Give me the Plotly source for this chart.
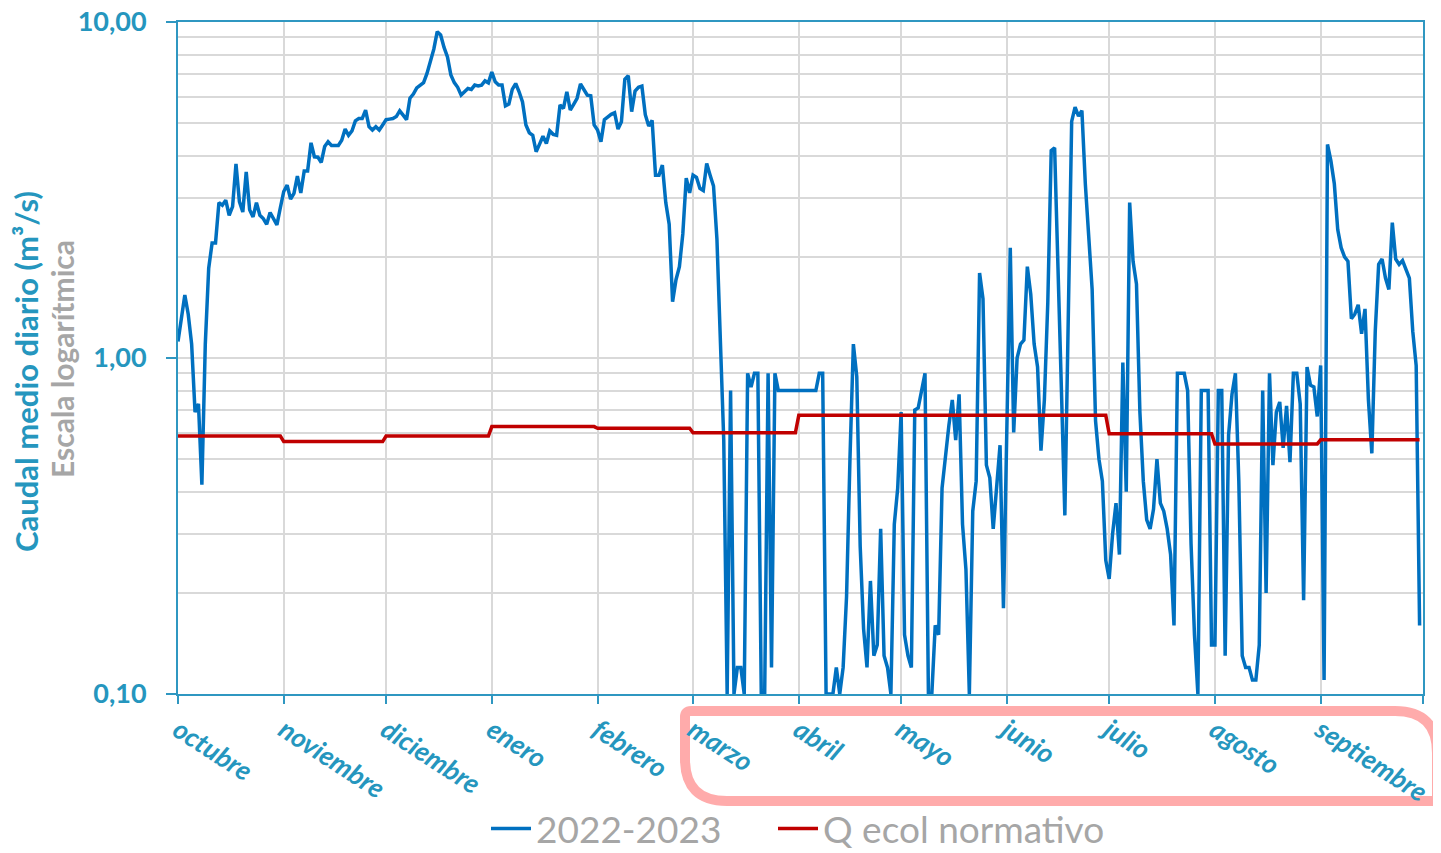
import pandas as pd
import plotly.graph_objects as go

# Caudal medio diario 2022-2023 (m3/s), one value per day from 1 Oct 2022
caudal_2022_2023 = [
    1.12, 1.3, 1.54, 1.35, 1.1, 0.69, 0.73, 0.42, 1.1, 1.85,
    2.2, 2.2, 2.9, 2.85, 2.95, 2.66, 2.82, 3.78, 2.92, 2.72,
    3.58, 2.76, 2.63, 2.9, 2.66, 2.6, 2.5, 2.71, 2.6, 2.49,
    2.8, 3.13, 3.27, 2.97, 3.09, 3.48, 3.1, 3.6, 3.6, 4.37,
    3.97, 3.96, 3.82, 4.26, 4.4, 4.29, 4.29, 4.29, 4.45, 4.8,
    4.6, 4.74, 5.08, 5.16, 5.16, 5.47, 4.88, 4.77, 4.88, 4.77,
    4.94, 5.12, 5.14, 5.16, 5.23, 5.44, 5.28, 5.12, 5.93, 6.1,
    6.37, 6.5, 6.6, 7.03, 7.6, 8.3, 9.36, 9.15, 8.4, 7.87,
    6.95, 6.6, 6.39, 6.06, 6.2, 6.34, 6.3, 6.49, 6.45, 6.49,
    6.68, 6.59, 7.1, 6.64, 6.49, 6.49, 5.63, 5.7, 6.3, 6.56,
    6.2, 5.78, 4.94, 4.68, 4.6, 4.11, 4.33, 4.57, 4.35, 4.74,
    4.63, 4.6, 5.66, 5.53, 6.2, 5.47, 5.69, 5.93, 6.54, 6.3,
    6.06, 6.03, 4.94, 4.77, 4.4, 5.12, 5.23, 5.31, 5.37, 4.8,
    5.05, 6.75, 6.92, 5.41, 6.23, 6.39, 6.44, 5.3, 4.9, 5.1,
    3.5, 3.5, 3.75, 2.9, 2.5, 1.47, 1.71, 1.87, 2.34, 3.43,
    3.1, 3.5, 3.45, 3.2, 3.15, 3.79, 3.5, 3.25, 2.26, 1.03,
    0.57, 0.1, 0.8, 0.1, 0.12, 0.12, 0.1, 0.9, 0.82, 0.9,
    0.9, 0.1, 0.1, 0.9, 0.12, 0.9, 0.8, 0.8, 0.8, 0.8,
    0.8, 0.8, 0.8, 0.8, 0.8, 0.8, 0.8, 0.8, 0.9, 0.9,
    0.1, 0.1, 0.1, 0.12, 0.1, 0.12, 0.195, 0.5, 1.1, 0.88,
    0.275, 0.156, 0.12, 0.217, 0.13, 0.14, 0.31, 0.13, 0.12, 0.1,
    0.32, 0.41, 0.69, 0.15, 0.13, 0.12, 0.7, 0.71, 0.8, 0.9,
    0.1, 0.1, 0.16, 0.15, 0.41, 0.52, 0.63, 0.75, 0.57, 0.78,
    0.32, 0.235, 0.1, 0.35, 0.43, 1.79, 1.5, 0.48, 0.44, 0.31,
    0.43, 0.55, 0.18, 0.6, 2.13, 0.6, 1.0, 1.1, 1.13, 1.87,
    1.55, 1.1, 0.94, 0.53, 0.75, 1.46, 4.14, 4.22, 2.0, 0.8,
    0.34, 1.2, 5.06, 5.58, 5.25, 5.45, 3.3, 2.3, 1.6, 0.65,
    0.5, 0.43, 0.25, 0.22, 0.3, 0.37, 0.26, 0.97, 0.4, 2.9,
    1.94, 1.66, 0.69, 0.43, 0.33, 0.31, 0.355, 0.5, 0.37, 0.35,
    0.31, 0.26, 0.16, 0.9, 0.9, 0.9, 0.8, 0.28, 0.15, 0.1,
    0.8, 0.8, 0.8, 0.14, 0.14, 0.8, 0.8, 0.13, 0.59, 0.78,
    0.9, 0.43, 0.13, 0.12, 0.12, 0.11, 0.11, 0.14, 0.8, 0.2,
    0.9, 0.48, 0.69, 0.74, 0.54, 0.72, 0.49, 0.9, 0.9, 0.73,
    0.19, 0.94, 0.83, 0.82, 0.67, 0.95, 0.11, 4.32, 3.86, 3.3,
    2.41, 2.13, 2.0, 1.94, 1.31, 1.35, 1.44, 1.18, 1.4, 0.75,
    0.52, 1.2, 1.9, 1.97, 1.73, 1.6, 2.53, 1.97, 1.9, 1.95,
    1.83, 1.73, 1.2, 0.95, 0.16,
]

# Q ecol normativo por mes (oct .. sep)
q_ecol_mensual = [0.586, 0.564, 0.586, 0.625, 0.618, 0.599,
                  0.675, 0.675, 0.675, 0.595, 0.555, 0.571]

meses = ["octubre", "noviembre", "diciembre", "enero", "febrero", "marzo",
         "abril", "mayo", "junio", "julio", "agosto", "septiembre"]

y_ticks = [0.1, 1, 10]
y_tick_text = ["0,10", "1,00", "10,00"]
y_minor = [0.2, 0.3, 0.4, 0.5, 0.6, 0.7, 0.8, 0.9, 2, 3, 4, 5, 6, 7, 8, 9]

fechas = pd.date_range("2022-10-01", periods=len(caudal_2022_2023), freq="D")
month_starts = pd.date_range("2022-10-01", "2023-10-01", freq="MS")
month_idx = [(d.year - 2022) * 12 + d.month - 10 for d in fechas]
q_ecol = [q_ecol_mensual[i] for i in month_idx]

TEAL = "#2f97c1"
LABEL = "#2596be"
GREY = "#a6a6a6"
GRID = "#d9d9d9"
FONT = "Lato, 'Open Sans', sans-serif"

# page body has an 8px margin, so the figure is shifted by that much
OFF = 8
W, H = 1441 - OFF, 853 - OFF
# plot area in screenshot pixels
L_PX, R_PX, T_PX, B_PX = 178, 1423, 22, 694


def px_x(px):
    return (px - L_PX) / (R_PX - L_PX)


def px_y(py):
    return (B_PX - py) / (B_PX - T_PX)


fig = go.Figure()
fig.add_trace(go.Scatter(
    x=fechas, y=caudal_2022_2023, mode="lines", name="2022-2023",
    line=dict(color="#0070c0", width=3.5), legend="legend",
))
fig.add_trace(go.Scatter(
    x=fechas, y=q_ecol, mode="lines", name="Q ecol normativo",
    line=dict(color="#c00000", width=3.5), legend="legend2",
))

fig.update_xaxes(
    range=[month_starts[0], month_starts[-1]],
    tickvals=list(month_starts),
    ticktext=meses + [""],
    tickangle=33,
    tickfont=dict(family=FONT, size=27, color=LABEL, weight="bold", style="italic"),
    ticks="outside", ticklen=8, tickcolor=TEAL, tickwidth=1.5,
    ticklabeloverflow="allow",
    showgrid=True, gridcolor=GRID, gridwidth=1.5,
    showline=True, linecolor=TEAL, linewidth=2, mirror=True,
    automargin=False,
)
fig.update_yaxes(
    type="log", range=[-1, 1],
    tickvals=y_ticks, ticktext=y_tick_text,
    tickfont=dict(family=FONT, size=27, color=LABEL, weight="bold"),
    ticks="outside", ticklen=10, tickcolor=TEAL, tickwidth=1.5,
    ticklabelstandoff=14, ticklabeloverflow="allow",
    showgrid=True, gridcolor=GRID, gridwidth=1.5,
    minor=dict(tickvals=y_minor, showgrid=True, gridcolor=GRID, gridwidth=1.5, ticklen=0),
    showline=True, linecolor=TEAL, linewidth=2, mirror=True,
    automargin=False,
)

# pink rounded frame around marzo..septiembre labels
lx, rx = px_x(685), px_x(1437)
ty, by = px_y(711), px_y(801)
rbx, rby = 42 / (R_PX - L_PX), 42 / (B_PX - T_PX)
rsx, rsy = 6 / (R_PX - L_PX), 6 / (B_PX - T_PX)
frame = (
    f"M {lx + rsx},{ty} L {rx - rbx},{ty} Q {rx},{ty} {rx},{ty - rby} "
    f"L {rx},{by} L {lx + rbx},{by} Q {lx},{by} {lx},{by + rby} "
    f"L {lx},{ty - rsy} Q {lx},{ty} {lx + rsx},{ty} Z"
)
fig.add_shape(type="path", path=frame, xref="paper", yref="paper",
              line=dict(color="#ffabab", width=10), layer="below")

fig.add_annotation(
    text="Caudal medio diario (m³/s)", textangle=-90,
    x=px_x(26), y=px_y(372), xref="paper", yref="paper", showarrow=False,
    xanchor="center", yanchor="middle",
    font=dict(family=FONT, size=31, color=LABEL, weight="bold"),
)
fig.add_annotation(
    text="Escala logarítmica", textangle=-90,
    x=px_x(62), y=px_y(359), xref="paper", yref="paper", showarrow=False,
    xanchor="center", yanchor="middle",
    font=dict(family=FONT, size=30, color=GREY, weight="bold"),
)

legend_style = dict(
    orientation="h", yanchor="middle", y=px_y(829), xanchor="left",
    bgcolor="rgba(0,0,0,0)", borderwidth=0,
    font=dict(family=FONT, size=37, color=GREY), itemwidth=40,
)

fig.update_layout(
    width=W, height=H,
    margin=dict(l=L_PX - OFF, r=W - (R_PX - OFF), t=T_PX - OFF,
                b=H - (B_PX - OFF), autoexpand=False),
    plot_bgcolor="white", paper_bgcolor="white",
    font=dict(family=FONT),
    showlegend=True,
    legend=dict(legend_style, x=px_x(486)),
    legend2=dict(legend_style, x=px_x(773)),
)

fig.write_html("out.html")
